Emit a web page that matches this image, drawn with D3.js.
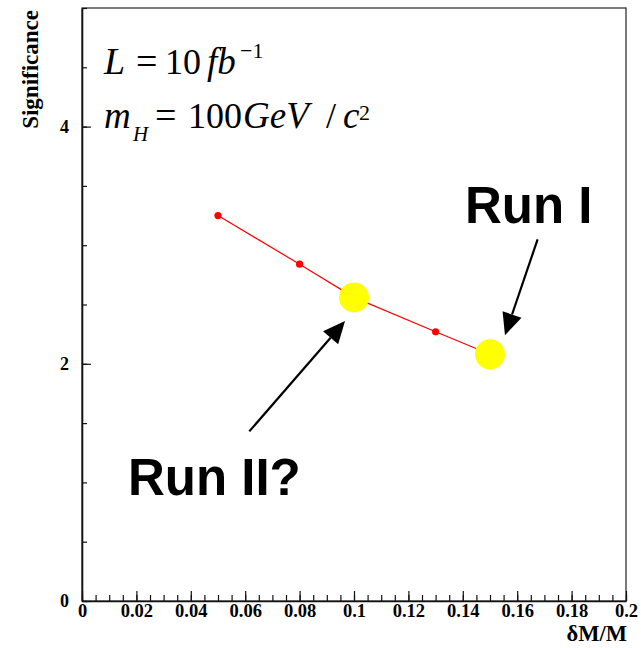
<!DOCTYPE html>
<html>
<head>
<meta charset="utf-8">
<script src="https://cdn.jsdelivr.net/npm/d3@7/dist/d3.min.js"></script>
<style>
  html, body { margin: 0; padding: 0; background: #fff; }
  svg { display: block; }
</style>
</head>
<body>
<svg id="chart" width="641" height="648"></svg>
<script>
// ---------- data ----------
const deltaM = [0.05, 0.08, 0.10, 0.13, 0.15];
const significance = [3.25, 2.84, 2.56, 2.27, 2.08];
const highlightX = [0.10, 0.15];
const highlightY = [2.56, 2.08];
const xTickValues = [0, 0.02, 0.04, 0.06, 0.08, 0.1, 0.12, 0.14, 0.16, 0.18, 0.2];
const xTickLabels = ["0", "0.02", "0.04", "0.06", "0.08", "0.1", "0.12", "0.14", "0.16", "0.18", "0.2"];
const yTickValues = [0, 2, 4];
const yTickLabels = ["0", "2", "4"];
const xTitle = "\u03B4M/M";
const yTitle = "Significance";
// annotations (data coordinates)
const annLabels = ["Run I", "Run II?"];
const annTextX = [0.1408, 0.0169];
const annTextY = [3.186, 0.89];
const arrowFromX = [0.1675, 0.0615];
const arrowFromY = [3.049, 1.43];
const arrowToX = [0.1555, 0.0967];
const arrowToY = [2.24, 2.36];

// ---------- layout ----------
const svg = d3.select("#chart");
const mLeft = 82, mRight = 626, mTop = 8, mBottom = 601;
const x = d3.scaleLinear().domain([0, 0.2]).range([mLeft, mRight]);
const y = d3.scaleLinear().domain([0, 5]).range([mBottom, mTop]);
const serif = "'Liberation Serif','Times New Roman',serif";
const sans = "'Liberation Sans',Arial,sans-serif";

// frame
svg.append("rect")
  .attr("x", mLeft).attr("y", mTop)
  .attr("width", mRight - mLeft).attr("height", mBottom - mTop)
  .attr("fill", "none").attr("stroke", "#222").attr("stroke-width", 1.2);

// x axis minor ticks
svg.append("g")
  .attr("transform", `translate(0,${mBottom})`)
  .call(d3.axisBottom(x).tickValues(x.ticks(40)).tickSizeInner(-6).tickSizeOuter(0).tickFormat(""))
  .call(g => g.select(".domain").remove())
  .call(g => g.selectAll("line").attr("stroke", "#111").attr("stroke-width", 1.2));

// x axis major
svg.append("g")
  .attr("transform", `translate(0,${mBottom})`)
  .call(d3.axisBottom(x).tickValues(xTickValues).tickSizeInner(-10).tickSizeOuter(0)
    .tickPadding(3).tickFormat((d, i) => xTickLabels[i]))
  .call(g => g.select(".domain").attr("stroke", "#111").attr("stroke-width", 1.6))
  .call(g => g.selectAll("line").attr("stroke", "#111").attr("stroke-width", 1.2))
  .call(g => g.selectAll("text").attr("font-family", serif).attr("font-weight", "bold")
    .attr("font-size", 18.5).attr("fill", "#000"));

// y axis minor ticks
svg.append("g")
  .attr("transform", `translate(${mLeft},0)`)
  .call(d3.axisLeft(y).tickValues(y.ticks(10)).tickSizeInner(-5).tickSizeOuter(0).tickFormat(""))
  .call(g => g.select(".domain").remove())
  .call(g => g.selectAll("line").attr("stroke", "#111").attr("stroke-width", 1.2));

// y axis major
svg.append("g")
  .attr("transform", `translate(${mLeft},0)`)
  .call(d3.axisLeft(y).tickValues(yTickValues).tickSizeInner(-9).tickSizeOuter(0)
    .tickPadding(13).tickFormat((d, i) => yTickLabels[i]))
  .call(g => g.select(".domain").attr("stroke", "#111").attr("stroke-width", 1.6))
  .call(g => g.selectAll("line").attr("stroke", "#111").attr("stroke-width", 1.2))
  .call(g => g.selectAll("text").attr("font-family", serif).attr("font-weight", "bold")
    .attr("font-size", 18).attr("fill", "#000"));

// axis titles
svg.append("text")
  .attr("x", mRight + 1).attr("y", 641)
  .attr("text-anchor", "end")
  .attr("font-family", serif).attr("font-weight", "bold").attr("font-size", 22.5)
  .text(xTitle);

svg.append("text")
  .attr("transform", "translate(38,10) rotate(-90)")
  .attr("text-anchor", "end")
  .attr("font-family", serif).attr("font-weight", "bold").attr("font-size", 23)
  .text(yTitle);

// ---------- series ----------
const pts = deltaM.map((d, i) => ({ x: d, y: significance[i] }));
svg.append("path")
  .datum(pts)
  .attr("fill", "none").attr("stroke", "#ff0000").attr("stroke-width", 1.2)
  .attr("d", d3.line().x(d => x(d.x)).y(d => y(d.y)));

svg.selectAll("circle.pt")
  .data(pts).enter().append("circle")
  .attr("class", "pt")
  .attr("cx", d => x(d.x)).attr("cy", d => y(d.y))
  .attr("r", 3.6).attr("fill", "#ff0000");

const hlPts = highlightX.map((d, i) => ({ x: d, y: highlightY[i] }));
svg.selectAll("circle.hl")
  .data(hlPts).enter().append("circle")
  .attr("class", "hl")
  .attr("cx", d => x(d.x)).attr("cy", d => y(d.y))
  .attr("r", 15).attr("fill", "#ffff00");

// ---------- annotations ----------
annLabels.forEach((t, i) => {
  svg.append("text")
    .attr("x", x(annTextX[i])).attr("y", y(annTextY[i]))
    .attr("font-family", sans).attr("font-weight", "bold").attr("font-size", 51)
    .attr("fill", "#000")
    .text(t);
  const x1 = x(arrowFromX[i]), y1 = y(arrowFromY[i]);
  const x2 = x(arrowToX[i]), y2 = y(arrowToY[i]);
  const dx = x2 - x1, dy = y2 - y1, len = Math.hypot(dx, dy);
  const ux = dx / len, uy = dy / len;
  const headL = 22, headW = 10;
  const bx = x2 - ux * headL, by = y2 - uy * headL;
  svg.append("line")
    .attr("x1", x1).attr("y1", y1).attr("x2", bx).attr("y2", by)
    .attr("stroke", "#000").attr("stroke-width", 2.2);
  svg.append("path")
    .attr("d", `M${x2},${y2}L${bx - uy * headW},${by + ux * headW}L${bx + uy * headW},${by - ux * headW}Z`)
    .attr("fill", "#000");
});

// ---------- formula text ----------
const f = svg.append("g").attr("font-family", serif).attr("fill", "#000");
function piece(xp, yp, txt, size, italic) {
  f.append("text").attr("x", xp).attr("y", yp)
    .attr("font-size", size).attr("font-style", italic ? "italic" : "normal")
    .text(txt);
}
// line 1: L = 10 fb^-1
piece(104, 74, "L", 38, true);
piece(136, 74, "=", 38, false);
piece(165, 74, "10", 36, false);
piece(207, 74, "fb", 37, true);
piece(240, 58, "\u22121", 22, false);
// line 2: m_H = 100GeV / c^2
piece(104, 128, "m", 37, true);
piece(133, 141, "H", 21, true);
piece(155, 128, "=", 38, false);
piece(188, 128, "100", 36, false);
piece(243, 128, "GeV", 37, true);
piece(326, 128, "/", 36, false);
piece(343, 128, "c", 37, true);
piece(359, 120, "2", 22, false);
</script>
</body>
</html>
